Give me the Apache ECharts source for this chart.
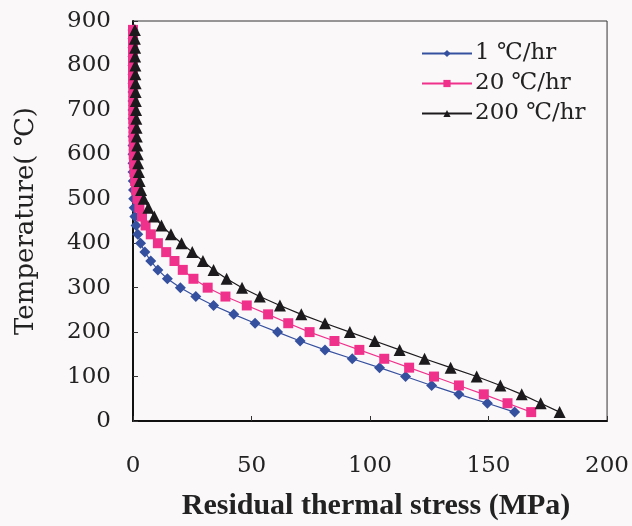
<!DOCTYPE html>
<html>
<head>
<meta charset="utf-8">
<script src="https://cdn.jsdelivr.net/npm/echarts@6/dist/echarts.min.js"></script>
<style>html,body{margin:0;padding:0;background:#fbf8f9;}#c{width:632px;height:526px;}</style>
</head>
<body>
<div id="c"></div>
<script>
const temperature = [880,860,840,820,800,780,760,740,720,700,680,660,640,620,600,580,560,540,520,500,480,460,440,420,400,380,360,340,320,300,280,260,240,220,200,180,160,140,120,100,80,60,40,20];
const stress1 = [0,0,0,0,0,0,0,0,0,0,0,0,0,0,0,0,0,0.1,0.2,0.3,0.5,0.8,1.3,2.0,3.2,5,7.5,10.5,14.5,20,26.5,34,42.5,51.5,61,70.5,81,92.5,104,115,126,137.5,149.5,161];
const stress20 = [0,0,0,0,0,0,0,0.1,0.1,0.1,0.1,0.2,0.2,0.3,0.3,0.4,0.6,0.9,1.3,1.9,2.7,3.8,5.3,7.5,10.5,14,17.5,21,25.5,31.5,39,48,57,65.5,74.5,85,95.5,106,116.5,127,137.5,148,158,168];
const stress200 = [0.8,0.8,0.9,0.9,1.0,1.0,1.1,1.1,1.2,1.3,1.4,1.5,1.6,1.8,2.0,2.2,2.5,2.8,3.4,4.5,6.5,9,12,16,20.5,25,29.5,34,39.5,46,53.5,62,71,81,91.5,102,112.5,123,134,145,155,164,172,180];
const seriesNames = ['1 ℃/hr','20 ℃/hr','200 ℃/hr'];
const xTicks = [0,50,100,150,200];
const yTicks = [0,100,200,300,400,500,600,700,800,900];

const pairs = arr => arr.map((x,i)=>[x,temperature[i]]);
const serif = '"DejaVu Serif","Noto Sans CJK JP",serif';
const times = '"Liberation Serif","DejaVu Serif",serif';
const chart = echarts.init(document.getElementById('c'));
chart.setOption({
  backgroundColor:'#fbf8f9',
  animation:false,
  grid:{left:133,right:22,top:21,bottom:104,show:true,borderColor:'#333',borderWidth:1,backgroundColor:'transparent'},
  legend:{
    left:416, top:37, orient:'vertical', itemGap:7, itemWidth:50, itemHeight:9,
    textStyle:{fontFamily:serif,fontSize:23,color:'#222',padding:[0,0,0,-2]},
    data:seriesNames
  },
  xAxis:{
    type:'value', min:xTicks[0], max:xTicks[xTicks.length-1], interval:50,
    name:'Residual thermal stress (MPa)', nameLocation:'middle', nameGap:70,
    nameTextStyle:{fontFamily:times,fontSize:30,fontWeight:'bold',color:'#222',padding:[0,0,0,12]},
    axisLine:{lineStyle:{color:'#111',width:2}},
    axisTick:{inside:true,length:5,lineStyle:{color:'#333'}},
    axisLabel:{margin:34,fontFamily:serif,fontSize:23,color:'#222'},
    splitLine:{show:false}
  },
  yAxis:{
    type:'value', min:yTicks[0], max:yTicks[yTicks.length-1], interval:100,
    name:'Temperature( ℃)', nameLocation:'middle', nameGap:94, nameRotate:90,
    nameTextStyle:{fontFamily:serif,fontSize:26,color:'#222'},
    axisLine:{show:true,lineStyle:{color:'#111',width:2}},
    axisTick:{show:true,inside:true,length:5,lineStyle:{color:'#333'}},
    axisLabel:{margin:22,fontFamily:serif,fontSize:23,color:'#222'},
    splitLine:{show:false}
  },
  series:[
    {name:seriesNames[0],type:'line',data:pairs(stress1),symbol:'diamond',symbolSize:11,
     itemStyle:{color:'#34509f'},lineStyle:{color:'#34509f',width:1.2}},
    {name:seriesNames[1],type:'line',data:pairs(stress20),symbol:'rect',symbolSize:10,
     itemStyle:{color:'#f0318c'},lineStyle:{color:'#f0318c',width:1.2}},
    {name:seriesNames[2],type:'line',data:pairs(stress200),symbol:'triangle',symbolSize:12,
     itemStyle:{color:'#1c1a1c'},lineStyle:{color:'#1c1a1c',width:1.2}}
  ]
});
</script>
</body>
</html>
